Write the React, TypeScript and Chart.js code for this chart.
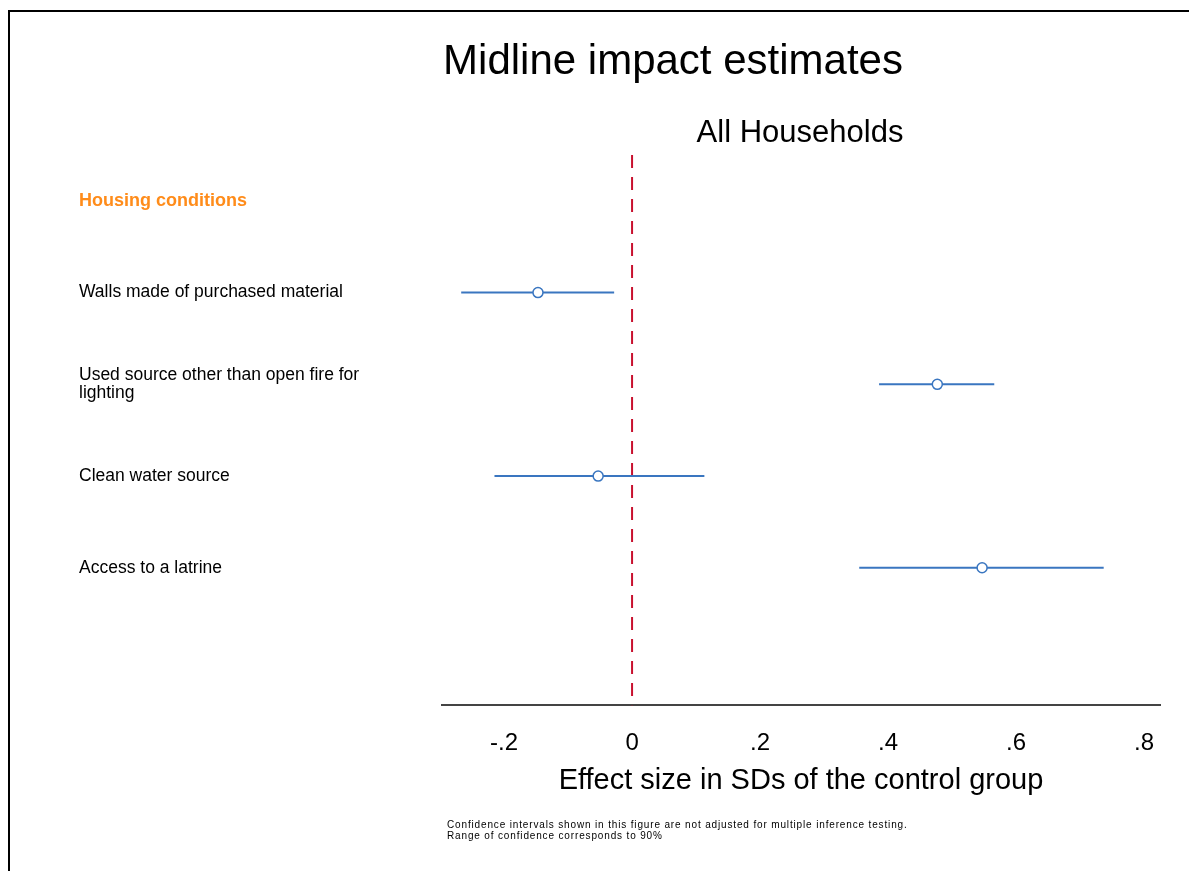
import React, { useEffect, useRef } from "react";
import { Chart, registerables } from "chart.js";

Chart.register(...registerables);

// Outcome rows (row 0 is the section header)
const rowLabels: (string | string[])[] = [
  "Housing conditions",
  "Walls made of purchased material",
  ["Used source other than open fire for", "lighting"],
  "Clean water source",
  "Access to a latrine",
];
const rowPositions = [0, 1, 2, 3, 4];

// Point estimates and 90% confidence bounds (SDs of control group)
const estimates = [-0.147, 0.477, -0.053, 0.547];
const ciLower = [-0.267, 0.386, -0.215, 0.355];
const ciUpper = [-0.028, 0.566, 0.113, 0.737];
const estimateRows = [1, 2, 3, 4];

// Axis ticks
const xTickValues = [-0.2, 0, 0.2, 0.4, 0.6, 0.8];
const xTickLabels = ["-.2", "0", ".2", ".4", ".6", ".8"];

const titleText = "Midline impact estimates";
const subtitleText = "All Households";
const xAxisTitle = "Effect size in SDs of the control group";
const noteLines = [
  "Confidence intervals shown in this figure are not adjusted for multiple inference testing.",
  "Range of confidence corresponds to 90%",
];

const FONT = "'Liberation Sans', Arial, sans-serif";
const BLUE = "#3a76c0";
const RED = "#c8102e";
const ORANGE = "#ff8c1a";

const decorations = {
  id: "decorations",
  beforeDraw(chart: Chart) {
    const { ctx, width, height } = chart;
    ctx.save();
    ctx.fillStyle = "#ffffff";
    ctx.fillRect(0, 0, width, height);
    // outer frame
    ctx.fillStyle = "#000000";
    ctx.fillRect(8, 10, width - 8, 2);
    ctx.fillRect(8, 10, 2, height - 10);
    ctx.restore();
  },
  afterDraw(chart: Chart) {
    const { ctx } = chart;
    ctx.save();
    ctx.fillStyle = "#000000";
    ctx.textAlign = "center";
    ctx.textBaseline = "middle";
    ctx.font = `42px ${FONT}`;
    ctx.fillText(titleText, 673, 62);
    ctx.font = `31px ${FONT}`;
    ctx.fillText(subtitleText, 800, 133);
    ctx.textAlign = "left";
    ctx.textBaseline = "alphabetic";
    ctx.font = `10px ${FONT}`;
    (ctx as any).letterSpacing = "0.85px";
    ctx.fillText(noteLines[0], 447, 828);
    ctx.fillText(noteLines[1], 447, 839);
    ctx.restore();
  },
};

export default function App() {
  const canvasRef = useRef<HTMLCanvasElement | null>(null);

  useEffect(() => {
    if (!canvasRef.current) return;

    const ciSets = estimates.map((_, i) => ({
      type: "line" as const,
      data: [
        { x: ciLower[i], y: estimateRows[i] },
        { x: ciUpper[i], y: estimateRows[i] },
      ],
      borderColor: BLUE,
      borderWidth: 2,
      pointRadius: 0,
      order: 3,
    }));

    const chart = new Chart(canvasRef.current, {
      type: "scatter",
      data: {
        datasets: [
          {
            type: "line",
            data: [
              { x: 0, y: -0.5 },
              { x: 0, y: 5.5 },
            ],
            borderColor: RED,
            borderWidth: 2,
            borderDash: [13, 9],
            pointRadius: 0,
            order: 4,
          },
          ...ciSets,
          {
            type: "scatter",
            data: estimates.map((v, i) => ({ x: v, y: estimateRows[i] })),
            pointStyle: "circle",
            pointRadius: 5,
            pointBorderWidth: 1.5,
            borderColor: BLUE,
            backgroundColor: "#ffffff",
            order: 1,
          },
        ],
      },
      options: {
        animation: false,
        responsive: false,
        layout: { padding: { left: 79, right: 29, top: 155, bottom: 73 } },
        plugins: {
          legend: { display: false },
          tooltip: { enabled: false },
          title: { display: false },
        },
        scales: {
          x: {
            type: "linear",
            min: -0.297,
            max: 0.825,
            grid: { display: false, drawTicks: false },
            border: { display: true, color: "#444444", width: 2 },
            afterBuildTicks: (scale: any) => {
              scale.ticks = xTickValues.map((v) => ({ value: v }));
            },
            ticks: {
              padding: 24,
              color: "#000000",
              font: { family: FONT, size: 24 },
              maxRotation: 0,
              autoSkip: false,
              callback: (value: any) => {
                const idx = xTickValues.findIndex((t) => Math.abs(t - Number(value)) < 1e-9);
                return idx >= 0 ? xTickLabels[idx] : "";
              },
            },
            title: {
              display: true,
              text: xAxisTitle,
              color: "#000000",
              font: { family: FONT, size: 29 },
              padding: { top: -19, bottom: 0 },
            },
          },
          y: {
            type: "linear",
            min: -0.5,
            max: 5.5,
            reverse: true,
            grid: { display: false, drawTicks: false },
            border: { display: false },
            afterBuildTicks: (scale: any) => {
              scale.ticks = rowPositions.map((v) => ({ value: v }));
            },
            afterFit: (scale: any) => {
              scale.width = 363;
            },
            ticks: {
              crossAlign: "far",
              autoSkip: false,
              padding: 0,
              color: (c: any) => (c.index === 0 ? ORANGE : "#000000"),
              font: (c: any) => ({
                family: FONT,
                size: c.index === 0 ? 18 : 17.5,
                weight: c.index === 0 ? "bold" : "normal",
                lineHeight: "18px",
              }),
              callback: (_v: any, i: number) => rowLabels[i],
            },
          },
        },
      },
      plugins: [decorations],
    });

    return () => chart.destroy();
  }, []);

  return (
    <div style={{ position: "absolute", left: 0, top: 0, width: 1189, height: 871 }}>
      <canvas ref={canvasRef} width={1189} height={871} style={{ display: "block" }} />
    </div>
  );
}
